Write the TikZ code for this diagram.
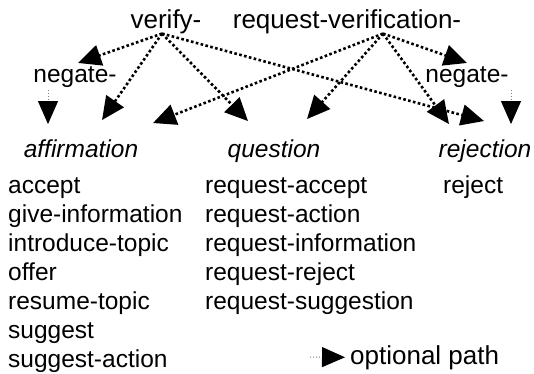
\documentclass[tikz,border=0pt]{standalone}
\usepackage{fontspec}
\setmainfont{Liberation Sans}
\usetikzlibrary{arrows.meta}
\begin{document}
\begin{tikzpicture}[x=1pt,y=-1pt,
    lbl/.style={inner sep=0pt,font=\fontsize{26}{30}\selectfont},
    neg/.style={inner sep=0pt,font=\fontsize{24.5}{29}\selectfont},
    cls/.style={inner sep=0pt,font=\fontsize{24.5}{29}\selectfont\itshape},
    act/.style={inner sep=0pt,anchor=base west,font=\fontsize{24.5}{29}\selectfont},
    path/.style={line width=2.6pt,dash pattern=on 2.6pt off 2.4pt,
      -{Triangle[length=23pt,width=21pt]}},
    optpath/.style={gray,line width=1pt,dash pattern=on 1pt off 2pt,
      -{Triangle[length=23pt,width=20pt,color=black]}}]
      \useasboundingbox (0,0) rectangle (534,373);
      \node[lbl,anchor=base] (verify) at (166,28) {verify-};
      \node[lbl,anchor=base] (reqver) at (347,28) {request-verification-};
      \node[neg,anchor=base] (negL) at (75,82) {negate-};
      \node[neg,anchor=base] (negR) at (467,82) {negate-};
      \node[cls,anchor=base] (affirm) at (81,157) {affirmation};
      \node[cls,anchor=base] (quest) at (274,157) {question};
      \node[cls,anchor=base] (reject) at (485,157) {rejection};
      \foreach \t [count=\i from 0] in {accept,give-information,
        introduce-topic,offer,resume-topic,suggest,suggest-action}
        \node[act] (affirm-\i) at (8,193+29*\i) {\t};
      \foreach \t [count=\i from 0] in {request-accept,request-action,
        request-information,request-reject,request-suggestion}
        \node[act] (quest-\i) at (205,193+29*\i) {\t};
      \node[act] (reject-0) at (443,193) {reject};
      \node[lbl,anchor=base west] (legend) at (350,364) {optional path};
      \coordinate (legstart) at (310,357);
      \begin{scope}[path]
        \draw ([xshift=-4pt]verify.south) to ([xshift=3pt,yshift=3pt]negL.north);
        \draw ([xshift=-4pt]verify.south) to ([xshift=21pt,yshift=19pt]affirm.north);
        \draw ([xshift=-4pt]verify.south) to ([xshift=-26pt,yshift=18pt]quest.north);
        \draw ([xshift=-4pt]verify.south) to ([xshift=-1pt,yshift=18pt]reject.north);
        \draw ([xshift=36pt]reqver.south) to ([xshift=0pt,yshift=3pt]negR.north);
        \draw ([xshift=36pt]reqver.south) to ([xshift=72pt,yshift=16pt]affirm.north);
        \draw ([xshift=36pt]reqver.south) to ([xshift=33pt,yshift=20pt]quest.north);
        \draw ([xshift=36pt]reqver.south) to ([xshift=-36pt,yshift=15pt]reject.north);
      \end{scope}
      \begin{scope}[optpath]
        \draw ([xshift=-27pt,yshift=-3pt]negL.south) to ([xshift=-33pt,yshift=15pt]affirm.north);
        \draw ([xshift=44pt,yshift=-3pt]negR.south) to ([xshift=26pt,yshift=15pt]reject.north);
        \draw (legstart) to ([xshift=-5pt]legend.west);
      \end{scope}
    \end{tikzpicture}
\end{document}
